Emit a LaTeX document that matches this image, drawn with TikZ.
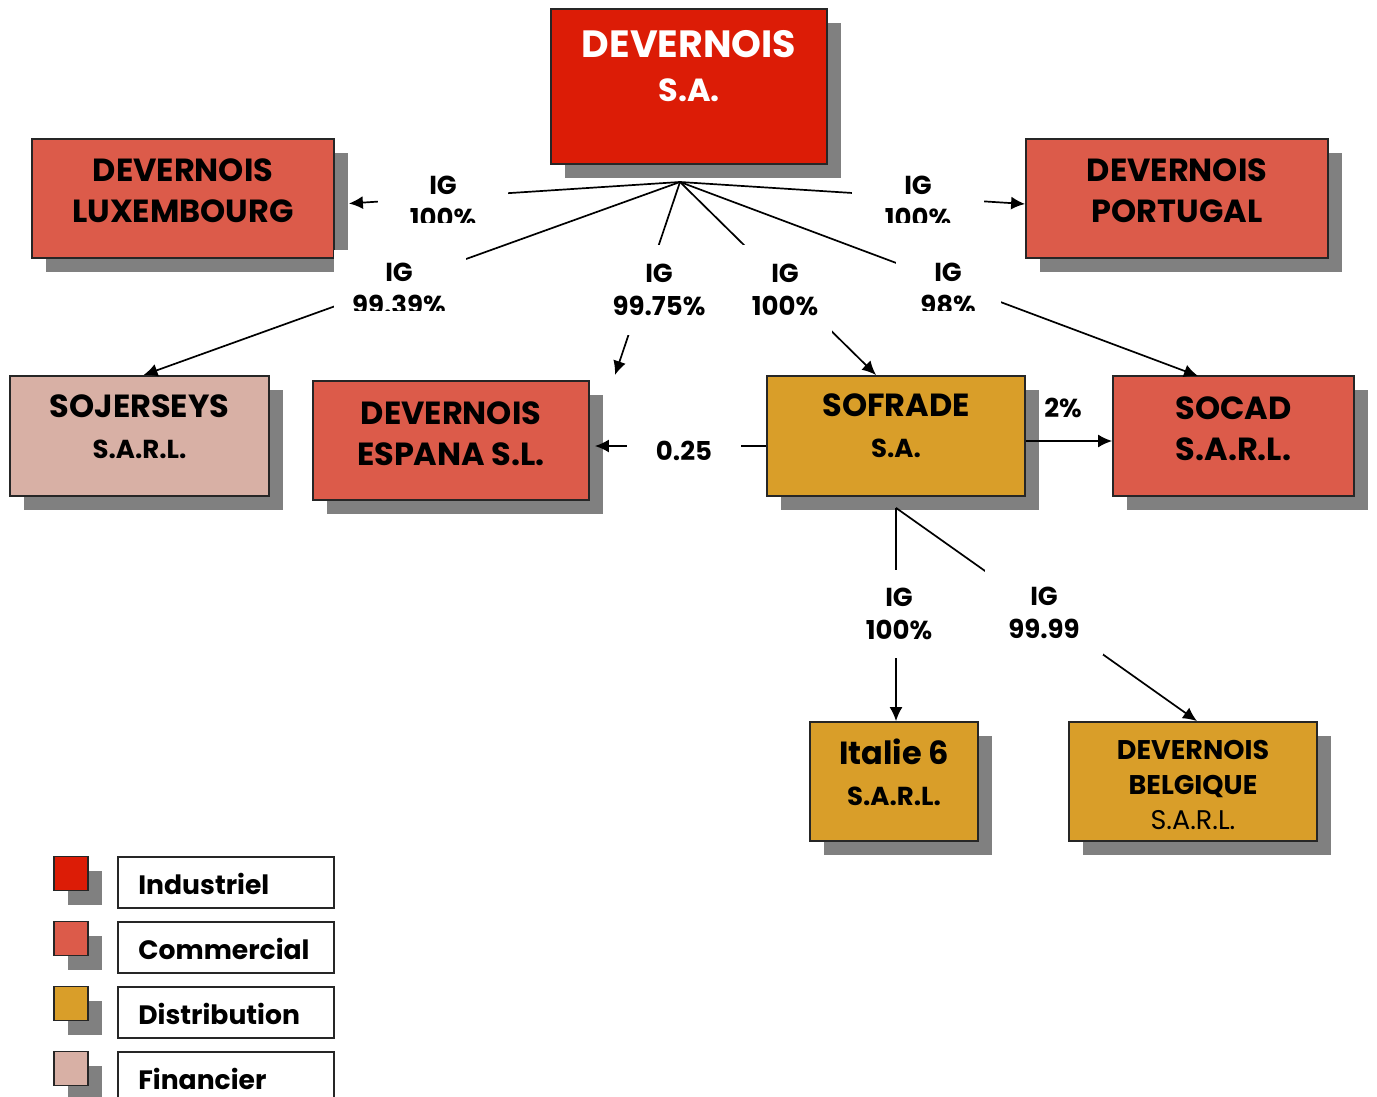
\documentclass[tikz,border=0pt]{standalone}
\usepackage{fontspec}
\setmainfont{Poppins}
\usetikzlibrary{shadows,arrows.meta}
\definecolor{indus}{RGB}{220,28,6}
\definecolor{comm}{RGB}{220,91,74}
\definecolor{distri}{RGB}{217,158,41}
\definecolor{finan}{RGB}{216,176,165}
\definecolor{ombre}{RGB}{128,128,128}

\begin{document}
\begin{tikzpicture}[x=0.5pt,y=-0.5pt,>={Latex[length=7pt,width=6.5pt]},
 boite/.style={draw=black!85, line width=0.9pt, fill=#1, inner sep=0pt,
   general shadow={fill=ombre, shadow xshift=7pt, shadow yshift=-7pt}},
 nom/.style={font=\bfseries\fontsize{16}{20.5}\selectfont, align=center, inner sep=0pt},
 taux/.style={font=\bfseries\fontsize{13}{16.5}\selectfont, align=center, inner sep=0pt},
 cache/.style={fill=white, inner sep=0pt},
 lien/.style={line width=0.85pt}]

\useasboundingbox (0,0) rectangle (1377,1097);

% societes
\node [boite=indus, minimum width=138pt, minimum height=77.5pt] (sa) at (689,86.5) {};
\node [nom, white, font=\bfseries\fontsize{19}{22}\selectfont] (sa-t) at (689,66) {DEVERNOIS\\{\fontsize{16}{18}\selectfont S.A.}};

\node [boite=comm, minimum width=151pt, minimum height=59.5pt] (lux) at (183,198.5) {};
\node [nom] (lux-t) at (183,190.5) {DEVERNOIS\\LUXEMBOURG};

\node [boite=comm, minimum width=151pt, minimum height=59.5pt] (por) at (1177,198.5) {};
\node [nom] (por-t) at (1177,190.5) {DEVERNOIS\\PORTUGAL};

\node [boite=finan, minimum width=129.5pt, minimum height=60pt] (soj) at (139.5,436) {};
\node [nom] (soj-t) at (139.5,427) {SOJERSEYS\\{\fontsize{13}{13}\selectfont S.A.R.L.}};

\node [boite=comm, minimum width=138pt, minimum height=59.5pt] (esp) at (451,440.5) {};
\node [nom] (esp-t) at (451,434) {DEVERNOIS\\ESPANA S.L.};

\node [boite=distri, minimum width=129pt, minimum height=60pt] (sof) at (896,436) {};
\node [nom] (sof-t) at (896,426) {SOFRADE\\{\fontsize{13}{13}\selectfont S.A.}};

\node [boite=comm, minimum width=120.5pt, minimum height=60pt] (soc) at (1233.5,436) {};
\node [nom] (soc-t) at (1233.5,428.5) {SOCAD\\S.A.R.L.};

\node [boite=distri, minimum width=84pt, minimum height=59.5pt] (ita) at (894,781.5) {};
\node [nom] (ita-t) at (894,772) {Italie 6\\{\fontsize{13}{13}\selectfont S.A.R.L.}};

\node [boite=distri, minimum width=124pt, minimum height=59.5pt] (bel) at (1193,781.5) {};
\node [nom, font=\bfseries\fontsize{13.5}{17.5}\selectfont] (bel-t) at (1193,785)
  {DEVERNOIS\\BELGIQUE\\{\mdseries S.A.R.L.}};

% liens
\coordinate (hub) at (680,182);
\coordinate (esp-in) at (615,375);
\coordinate (sof-in) at (876,375);
\coordinate (soc-in) at (1198,376);
\coordinate (sof-out) at ([yshift=-5.5pt]sof.south);

\draw [->, lien] (hub) -- ([xshift=7pt,yshift=-2.5pt]lux.east);
\draw [->, lien] (hub) -- ([yshift=-2.75pt]por.west);
\draw [->, lien] (hub) -- ([xshift=2pt]soj.north);
\draw [->, lien] (hub) -- (esp-in);
\draw [->, lien] (hub) -- (sof-in);
\draw [->, lien] (hub) -- (soc-in);
\draw [->, lien] (sof.west |- 0,446) -- ([xshift=2.5pt]esp.east |- 0,446);
\draw [->, lien] ([yshift=-2.5pt]sof.east) -- ([yshift=-2.5pt]soc.west);
\draw [->, lien] (sof-out) -- (sof-out |- ita.north);
\draw [->, lien] (sof-out) -- ([xshift=2pt]bel.north);

% taux
\fill [white] (378,170) rectangle (508,222);
\begin{scope}
\clip (378,170) rectangle (508,222);
\node [taux] (ig-lux) at (443,202) {IG\\100\%};
\end{scope}

\fill [white] (852,170) rectangle (984,222);
\begin{scope}
\clip (852,170) rectangle (984,222);
\node [taux] (ig-por) at (918,202) {IG\\100\%};
\end{scope}

\fill [white] (334,250) rectangle (466,310);
\begin{scope}
\clip (334,250) rectangle (466,310);
\node [taux] (ig-soj) at (399,289) {IG\\99.39\%};
\end{scope}

\fill [white] (896,255) rectangle (1001,310);
\begin{scope}
\clip (896,255) rectangle (1001,310);
\node [taux] (ig-soc) at (948,289) {IG\\98\%};
\end{scope}

\node [taux, cache, minimum width=47pt, minimum height=45pt] (ig-esp) at (659,290) {IG\\99.75\%};
\node [taux, cache, minimum width=47pt, minimum height=45pt] (ig-sof) at (785,290) {IG\\100\%};
\node [taux, cache, minimum width=57pt, minimum height=22pt] (p-esp) at (684,451) {0.25};
\node [taux] (p-soc) at (1063,408) {2\%};
\node [taux, cache, minimum width=45pt, minimum height=44pt] (ig-ita) at (899,614) {IG\\100\%};
\node [taux, cache, minimum width=59pt, minimum height=42.5pt] (ig-bel) at (1044,612.5) {IG\\99.99};

% legende
\foreach \c/\t [count=\i from 0] in {indus/Industriel, comm/Commercial, distri/Distribution, finan/Financier}
{
  \node [boite=\c, minimum size=17pt] (carre\i) at (71,873.5+65*\i) {};
  \node [draw=black!85, line width=0.8pt, minimum width=108pt, minimum height=25.5pt, inner sep=0pt] (cadre\i) at (226,882.5+65*\i) {};
  \node [anchor=west, inner sep=0pt, font=\bfseries\fontsize{13.3}{15}\selectfont] (leg\i) at (138,884+65*\i) {\t};
}

\end{tikzpicture}
\end{document}
